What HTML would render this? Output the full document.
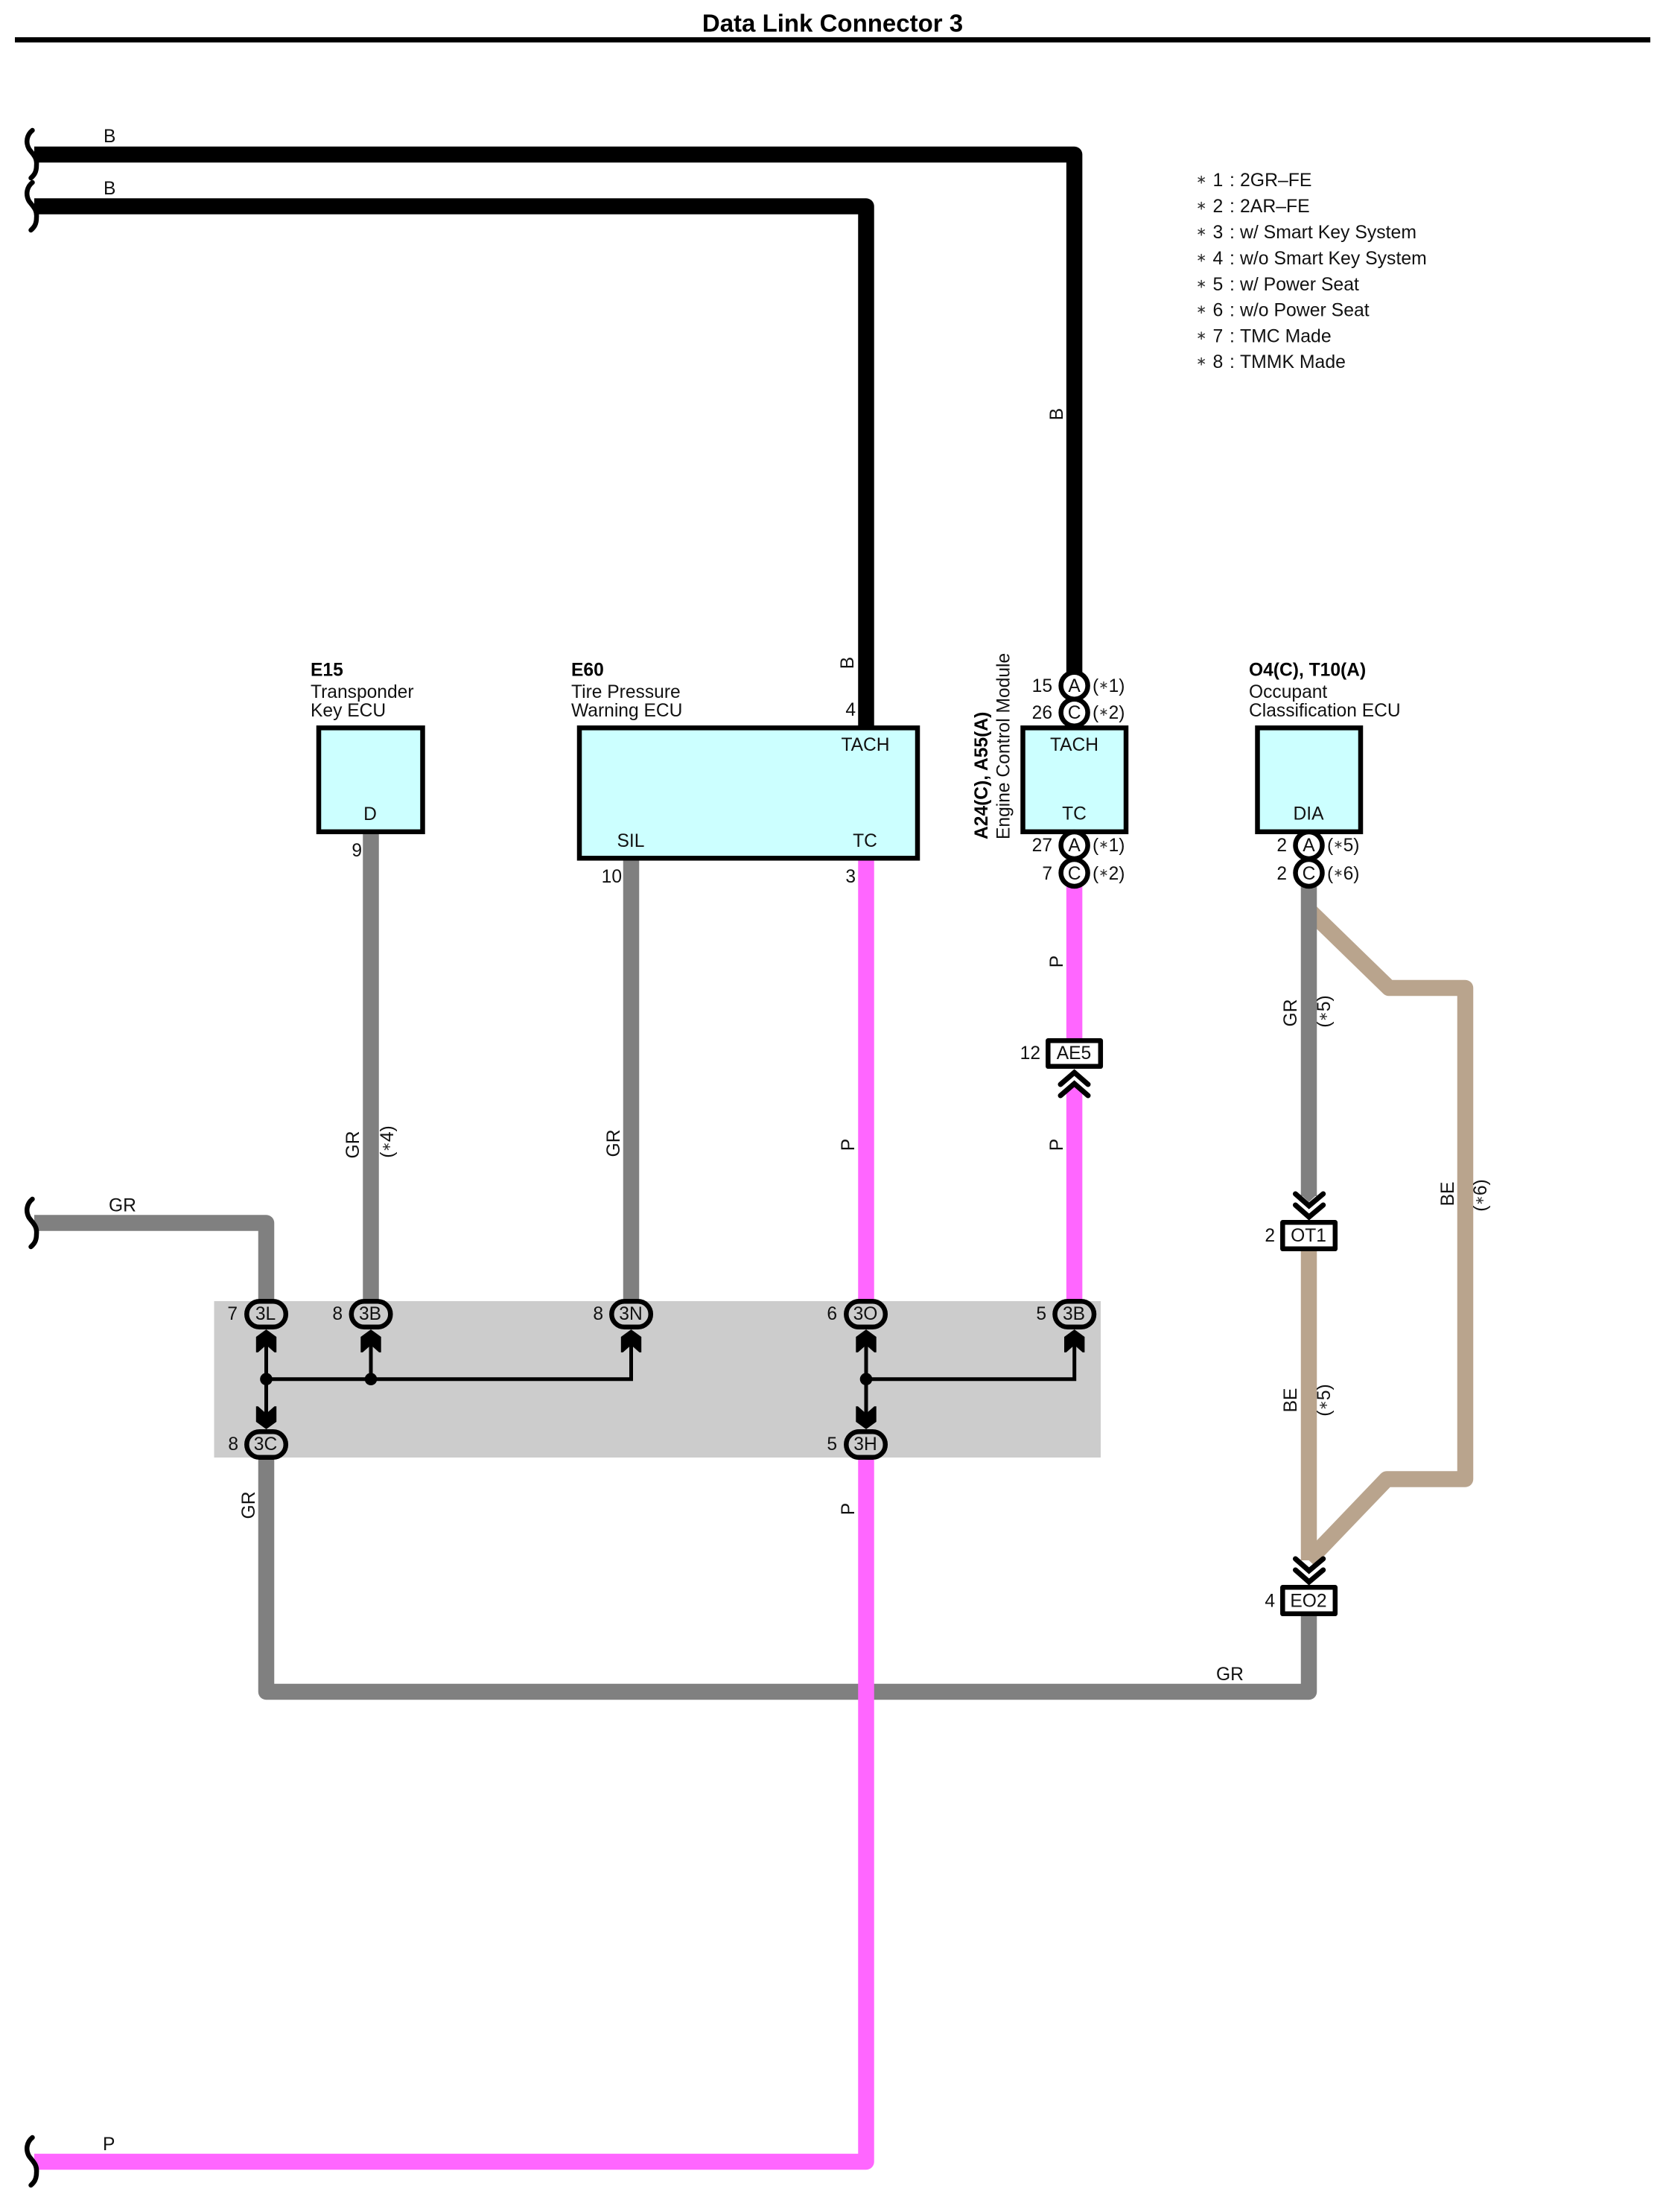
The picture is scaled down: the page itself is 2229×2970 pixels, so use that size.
<!DOCTYPE html>
<html><head><meta charset="utf-8"><title>Data Link Connector 3</title>
<style>
html,body{margin:0;padding:0;background:#fff}
svg{display:block}
text{font-family:"Liberation Sans","DejaVu Sans",sans-serif;font-size:24.6px;fill:#111}
.b{font-weight:bold;fill:#000}
.m{text-anchor:middle}
.e{text-anchor:end}
.w{fill:none;stroke-width:21.5;stroke-linejoin:round}
.p{fill:#ccc;stroke:#000;stroke-width:6.5}
.c{fill:#fff;stroke:#000;stroke-width:6.5}
.bx{fill:#fff;stroke:#000;stroke-width:6.5;stroke-linejoin:round}
.ecu{fill:#ccffff;stroke:#000;stroke-width:6.5}
.s{fill:none;stroke:#000;stroke-width:6.5;stroke-linecap:round}
.ch{fill:none;stroke:#000;stroke-width:7;stroke-linecap:round;stroke-linejoin:miter}
.l{fill:none;stroke:#000;stroke-width:5}
.st{font-size:16px;fill:#333}
.lg{font-size:24.8px}
.ls{font-size:17px;fill:#333}
</style></head><body>
<svg xmlns="http://www.w3.org/2000/svg" width="2229" height="2970" viewBox="0 0 2229 2970">
<rect width="2229" height="2970" fill="#fff"/>
<text class="b m" x="1118" y="42.5" style="font-size:33px">Data Link Connector 3</text>
<rect x="20" y="50" width="2196" height="7" fill="#000"/>

<!-- grey band -->
<rect x="287.5" y="1747" width="1190.5" height="210" fill="#ccc"/>

<!-- beige wires -->
<path class="w" stroke="#b9a48d" d="M1757.5 1222L1865 1326.5H1967.5V1986H1862L1757.5 2095"/>
<path class="w" stroke="#b9a48d" d="M1757.5 1680V2095"/>

<!-- black wires -->
<path class="w" stroke="#000" d="M46 207.5H1442.6V905"/>
<path class="w" stroke="#000" d="M46 277H1163V980"/>
<!-- grey wires -->
<path class="w" stroke="#808080" d="M46 1642H357.5V1750"/>
<path class="w" stroke="#808080" d="M498 1115V1750"/>
<path class="w" stroke="#808080" d="M847.5 1150V1750"/>
<path class="w" stroke="#808080" d="M357.5 1955V2271.5H1757.5V2165"/>
<path class="w" stroke="#808080" d="M1757.5 1190V1606"/>
<polygon points="1746.8,1604 1757.5,1614 1768.2,1604" fill="#808080"/>
<!-- pink wires -->
<path class="w" stroke="#ff66ff" d="M1163 1150V1750"/>
<path class="w" stroke="#ff66ff" d="M1163 1955V2902.5H46"/>
<path class="w" stroke="#ff66ff" d="M1442.6 1190V1394"/>
<path class="w" stroke="#ff66ff" d="M1442.6 1466V1750"/>
<polygon points="1431.8,1467 1442.6,1457 1453.4,1467" fill="#ff66ff"/>

<!-- squiggles -->
<path class="s" d="M43.5 175C36 181 34 191 39 200C44 207 50 211 49 222C49 231 46 235 41.5 239"/>
<path class="s" d="M43.5 245C36 251 34 261 39 270C44 277 50 281 49 292C49 301 46 305 41.5 309"/>
<path class="s" d="M43.5 1610C36 1616 34 1626 39 1635C44 1642 50 1646 49 1657C49 1666 46 1670 41.5 1674"/>
<path class="s" d="M43.5 2870C36 2876 34 2886 39 2895C44 2902 50 2906 49 2917C49 2926 46 2930 41.5 2934"/>

<!-- ECU boxes -->
<rect class="ecu" x="428" y="977.3" width="139.5" height="139.5"/>
<rect class="ecu" x="778" y="977.3" width="454" height="175"/>
<rect class="ecu" x="1373.5" y="977.3" width="138.5" height="139.5"/>
<rect class="ecu" x="1688.5" y="977.3" width="138.5" height="139.5"/>

<!-- circles -->
<circle class="c" cx="1442.6" cy="920.7" r="18"/>
<circle class="c" cx="1442.6" cy="956.7" r="18"/>
<circle class="c" cx="1442.6" cy="1135" r="18"/>
<circle class="c" cx="1442.6" cy="1172" r="18"/>
<circle class="c" cx="1757.5" cy="1135" r="18"/>
<circle class="c" cx="1757.5" cy="1172" r="18"/>

<!-- junction lines -->
<path class="l" d="M357.5 1800V1905M357.5 1851.7H847.5V1800M498 1800V1851.7"/>
<path class="l" d="M1163 1800V1905M1163 1851.7H1442.7V1800"/>
<circle cx="357.5" cy="1851.7" r="8.3" fill="#000"/>
<circle cx="498" cy="1851.7" r="8.3" fill="#000"/>
<circle cx="1163" cy="1851.7" r="8.3" fill="#000"/>

<!-- arrowheads -->
<g fill="#000">
<polygon transform="translate(357.5 1785)" points="0,0 13.7,10 13.7,30.7 11,30.7 0,21 -11,30.7 -13.7,30.7 -13.7,10"/>
<polygon transform="translate(498 1785)" points="0,0 13.7,10 13.7,30.7 11,30.7 0,21 -11,30.7 -13.7,30.7 -13.7,10"/>
<polygon transform="translate(847.5 1785)" points="0,0 13.7,10 13.7,30.7 11,30.7 0,21 -11,30.7 -13.7,30.7 -13.7,10"/>
<polygon transform="translate(1163 1785)" points="0,0 13.7,10 13.7,30.7 11,30.7 0,21 -11,30.7 -13.7,30.7 -13.7,10"/>
<polygon transform="translate(1442.7 1785)" points="0,0 13.7,10 13.7,30.7 11,30.7 0,21 -11,30.7 -13.7,30.7 -13.7,10"/>
<polygon transform="translate(357.5 1919)" points="0,0 13.7,-10 13.7,-30.7 11,-30.7 0,-21 -11,-30.7 -13.7,-30.7 -13.7,-10"/>
<polygon transform="translate(1163 1919)" points="0,0 13.7,-10 13.7,-30.7 11,-30.7 0,-21 -11,-30.7 -13.7,-30.7 -13.7,-10"/>
</g>

<!-- pills -->
<rect class="p" x="331.3" y="1747.3" width="52.5" height="34.5" rx="17.2"/>
<rect class="p" x="471.8" y="1747.3" width="52.5" height="34.5" rx="17.2"/>
<rect class="p" x="821.3" y="1747.3" width="52.5" height="34.5" rx="17.2"/>
<rect class="p" x="1136.3" y="1747.3" width="52.5" height="34.5" rx="17.2"/>
<rect class="p" x="1416.5" y="1747.3" width="52.5" height="34.5" rx="17.2"/>
<rect class="p" x="331.3" y="1922.3" width="52.5" height="34.5" rx="17.2"/>
<rect class="p" x="1136.3" y="1922.3" width="52.5" height="34.5" rx="17.2"/>

<!-- in-line connector boxes -->
<rect class="bx" x="1407.3" y="1397.3" width="70.5" height="34.5"/>
<rect class="bx" x="1722.3" y="1641.3" width="70.5" height="35.5"/>
<rect class="bx" x="1722.3" y="2131.3" width="70.5" height="35.5"/>

<!-- double chevrons -->
<polyline class="ch" points="1424,1456 1442.6,1440 1461,1456"/>
<polyline class="ch" points="1424,1471 1442.6,1455 1461,1471"/>
<polyline class="ch" points="1739.5,1603 1757.7,1619 1776.7,1603"/>
<polyline class="ch" points="1739.5,1618 1757.7,1634 1776.7,1618"/>
<polyline class="ch" points="1739.5,2093 1757.7,2109 1776.7,2093"/>
<polyline class="ch" points="1739.5,2108 1757.7,2124 1776.7,2108"/>

<!-- wire labels horizontal -->
<text x="139" y="191">B</text>
<text x="139" y="261">B</text>
<text x="146" y="1626.5">GR</text>
<text x="1633" y="2256">GR</text>
<text x="138" y="2887">P</text>

<!-- wire labels vertical -->
<text class="m" transform="translate(1427 556) rotate(-90)">B</text>
<text class="m" transform="translate(1146 890) rotate(-90)">B</text>
<text class="m" transform="translate(1427 1291) rotate(-90)">P</text>
<text class="m" transform="translate(1427 1537) rotate(-90)">P</text>
<text class="m" transform="translate(1147 1537) rotate(-90)">P</text>
<text class="m" transform="translate(1147 2026) rotate(-90)">P</text>
<text class="m" transform="translate(482 1537) rotate(-90)">GR</text>
<text class="m" transform="translate(528 1533) rotate(-90)">(<tspan class="st" dy="-4">∗</tspan><tspan dy="4">4)</tspan></text>
<text class="m" transform="translate(832 1535) rotate(-90)">GR</text>
<text class="m" transform="translate(342 2021) rotate(-90)">GR</text>
<text class="m" transform="translate(1741 1360) rotate(-90)">GR</text>
<text class="m" transform="translate(1786 1358) rotate(-90)">(<tspan class="st" dy="-4">∗</tspan><tspan dy="4">5)</tspan></text>
<text class="m" transform="translate(1741 1880) rotate(-90)">BE</text>
<text class="m" transform="translate(1786 1880) rotate(-90)">(<tspan class="st" dy="-4">∗</tspan><tspan dy="4">5)</tspan></text>
<text class="m" transform="translate(1952 1603) rotate(-90)">BE</text>
<text class="m" transform="translate(1996 1605) rotate(-90)">(<tspan class="st" dy="-4">∗</tspan><tspan dy="4">6)</tspan></text>

<!-- component titles -->
<text class="b" x="417" y="907.5">E15</text>
<text x="417" y="937">Transponder</text>
<text x="417" y="962">Key ECU</text>
<text class="b" x="767" y="907.5">E60</text>
<text x="767" y="937">Tire Pressure</text>
<text x="767" y="962">Warning ECU</text>
<text class="b" x="1677" y="907.5">O4(C), T10(A)</text>
<text x="1677" y="937">Occupant</text>
<text x="1677" y="962">Classification ECU</text>
<text class="b" transform="translate(1326 1127) rotate(-90)">A24(C), A55(A)</text>
<text transform="translate(1355.5 1127) rotate(-90)">Engine Control Module</text>

<!-- pin names -->
<text class="m" x="497" y="1101">D</text>
<text class="m" x="1162" y="1008">TACH</text>
<text class="m" x="847" y="1137">SIL</text>
<text class="m" x="1161.5" y="1137">TC</text>
<text class="m" x="1442.5" y="1008">TACH</text>
<text class="m" x="1442.5" y="1100.7">TC</text>
<text class="m" x="1757" y="1100.7">DIA</text>

<!-- pin numbers -->
<text class="e" x="486" y="1150">9</text>
<text class="e" x="835" y="1185">10</text>
<text class="e" x="1149" y="1185">3</text>
<text class="e" x="1149" y="961">4</text>
<text class="e" x="1413" y="929">15</text>
<text class="e" x="1413" y="965">26</text>
<text class="e" x="1413" y="1143">27</text>
<text class="e" x="1413" y="1181">7</text>
<text class="e" x="1728" y="1143">2</text>
<text class="e" x="1728" y="1181">2</text>

<text class="m" x="1442.6" y="929">A</text>
<text class="m" x="1442.6" y="965">C</text>
<text class="m" x="1442.6" y="1143">A</text>
<text class="m" x="1442.6" y="1181">C</text>
<text class="m" x="1757.5" y="1143">A</text>
<text class="m" x="1757.5" y="1181">C</text>

<text x="1467" y="929">(<tspan class="st" dy="-4">∗</tspan><tspan dy="4">1)</tspan></text>
<text x="1467" y="965">(<tspan class="st" dy="-4">∗</tspan><tspan dy="4">2)</tspan></text>
<text x="1467" y="1143">(<tspan class="st" dy="-4">∗</tspan><tspan dy="4">1)</tspan></text>
<text x="1467" y="1181">(<tspan class="st" dy="-4">∗</tspan><tspan dy="4">2)</tspan></text>
<text x="1782" y="1143">(<tspan class="st" dy="-4">∗</tspan><tspan dy="4">5)</tspan></text>
<text x="1782" y="1181">(<tspan class="st" dy="-4">∗</tspan><tspan dy="4">6)</tspan></text>

<!-- junction block labels -->
<text class="e" x="319" y="1772">7</text>
<text class="e" x="460" y="1772">8</text>
<text class="e" x="810" y="1772">8</text>
<text class="e" x="1124" y="1772">6</text>
<text class="e" x="1405" y="1772">5</text>
<text class="e" x="320" y="1947">8</text>
<text class="e" x="1124" y="1947">5</text>
<text class="m" x="356.5" y="1772">3L</text>
<text class="m" x="497" y="1772">3B</text>
<text class="m" x="847" y="1772">3N</text>
<text class="m" x="1162" y="1772">3O</text>
<text class="m" x="1442" y="1772">3B</text>
<text class="m" x="356.5" y="1947">3C</text>
<text class="m" x="1162" y="1947">3H</text>

<!-- inline connector labels -->
<text class="m" x="1442" y="1422">AE5</text>
<text class="e" x="1397" y="1422">12</text>
<text class="m" x="1757" y="1667">OT1</text>
<text class="e" x="1712" y="1667">2</text>
<text class="m" x="1757" y="2157.5">EO2</text>
<text class="e" x="1712" y="2157.5">4</text>

<!-- legend -->
<g>
<text class="ls" x="1606" y="246.5">∗</text><text class="lg" x="1628.5" y="250">1</text><text class="lg" x="1651" y="250">:</text><text class="lg" x="1665" y="250">2GR–FE</text>
<text class="ls" x="1606" y="281.5">∗</text><text class="lg" x="1628.5" y="285">2</text><text class="lg" x="1651" y="285">:</text><text class="lg" x="1665" y="285">2AR–FE</text>
<text class="ls" x="1606" y="316.5">∗</text><text class="lg" x="1628.5" y="320">3</text><text class="lg" x="1651" y="320">:</text><text class="lg" x="1665" y="320">w/ Smart Key System</text>
<text class="ls" x="1606" y="351.5">∗</text><text class="lg" x="1628.5" y="355">4</text><text class="lg" x="1651" y="355">:</text><text class="lg" x="1665" y="355">w/o Smart Key System</text>
<text class="ls" x="1606" y="386.5">∗</text><text class="lg" x="1628.5" y="390">5</text><text class="lg" x="1651" y="390">:</text><text class="lg" x="1665" y="390">w/ Power Seat</text>
<text class="ls" x="1606" y="421">∗</text><text class="lg" x="1628.5" y="424.5">6</text><text class="lg" x="1651" y="424.5">:</text><text class="lg" x="1665" y="424.5">w/o Power Seat</text>
<text class="ls" x="1606" y="456">∗</text><text class="lg" x="1628.5" y="459.5">7</text><text class="lg" x="1651" y="459.5">:</text><text class="lg" x="1665" y="459.5">TMC Made</text>
<text class="ls" x="1606" y="490.5">∗</text><text class="lg" x="1628.5" y="494">8</text><text class="lg" x="1651" y="494">:</text><text class="lg" x="1665" y="494">TMMK Made</text>
</g>
</svg>
</body></html>
